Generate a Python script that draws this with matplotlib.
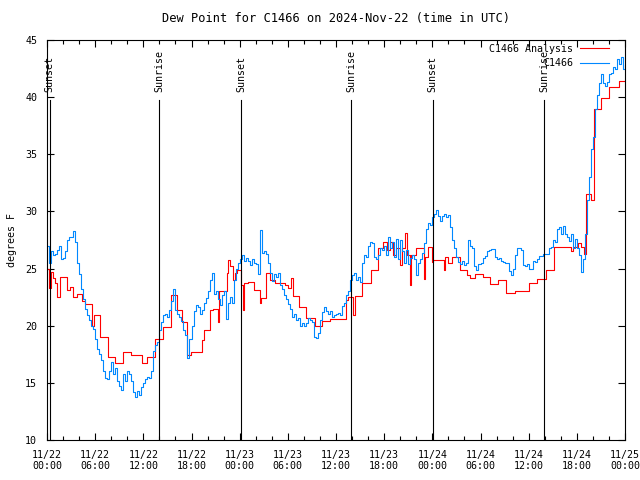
import numpy as np
import pandas as pd
import matplotlib
matplotlib.use('Agg')
import matplotlib.pyplot as plt
import matplotlib.dates as mdates

plt.rcParams['font.family'] = ['DejaVu Sans Mono']
plt.rcParams['font.size'] = 7.2

start = pd.Timestamp('2024-11-22 00:00')
end = pd.Timestamp('2024-11-25 00:00')

# station obs, every 15 min (deg F)
obs_vals = [
    27.0, 25.5, 26.5, 26.2, 26.3, 26.6, 27.0, 25.8, 25.9, 26.5, 27.5, 27.8,
    27.8, 28.3, 27.3, 25.5, 24.5, 23.2, 22.3, 21.5, 20.9, 20.5, 20.0, 19.7,
    18.8, 18.0, 17.5, 17.0, 16.0, 15.4, 15.3, 16.0, 16.8, 15.8, 16.3, 15.2,
    14.7, 14.4, 15.8, 15.2, 16.0, 15.8, 15.2, 14.2, 13.8, 14.3, 13.9, 14.6,
    15.0, 15.3, 15.5, 15.4, 16.0, 17.8, 18.3, 18.6, 19.6, 20.3, 20.9, 21.0,
    20.8, 21.4, 22.2, 23.2, 21.4, 21.0, 20.8, 20.4, 19.6, 19.2, 17.2, 18.8,
    20.0, 21.3, 21.8, 21.6, 21.0, 21.4, 22.0, 22.4, 23.0, 24.0, 24.6, 22.8,
    23.0, 22.3, 21.8, 22.7, 23.0, 20.6, 22.0, 22.5, 22.0, 24.0, 25.0, 25.5,
    25.8, 26.2, 25.7, 25.9, 25.7, 25.3, 25.8, 25.5, 25.4, 24.5, 28.4, 26.4,
    26.5, 26.3, 25.5, 24.6, 23.9, 24.5, 24.3, 24.6, 23.6, 23.2, 22.7, 22.3,
    21.9, 21.5, 20.8, 21.0, 20.5, 20.7, 20.0, 20.2, 20.0, 20.2, 20.7, 20.5,
    20.3, 19.0, 18.9, 19.4, 20.5, 21.2, 21.6, 21.3, 21.0, 21.3, 20.8, 20.9,
    21.0, 21.1, 20.9, 21.7, 22.0, 22.7, 23.0, 24.0, 24.4, 24.6, 24.0, 24.3,
    23.8, 25.5, 26.2, 26.0, 27.0, 27.3, 27.2, 26.0, 25.8, 26.2, 26.8, 26.6,
    27.0, 26.2, 27.8, 26.8, 27.3, 26.0, 27.6, 25.8, 27.5, 26.5, 25.5, 26.6,
    25.4, 25.9, 26.2, 25.8, 24.4, 25.5, 25.8, 26.4, 27.2, 28.5, 29.0, 28.8,
    29.5, 29.8, 30.1, 29.6, 29.2, 29.6, 29.8, 29.5, 29.7, 28.6, 27.5, 26.8,
    26.0, 25.6, 25.4, 25.7, 25.3, 25.5, 27.5, 27.0, 26.8, 25.2, 24.9, 25.4,
    25.5, 25.9, 26.1, 26.5, 26.6, 26.7, 26.7, 26.0, 25.8, 25.9, 25.7, 25.6,
    25.5, 25.5, 24.8, 24.4, 25.0, 26.2, 26.8, 26.8, 26.6, 25.3, 25.2, 25.4,
    25.0, 25.0, 25.7, 25.6, 25.8, 26.1, 26.1, 26.3, 26.3, 26.3, 26.8, 26.9,
    27.5, 27.3, 28.5, 28.6, 28.0, 28.7, 28.0, 27.8, 27.4, 28.0, 26.8, 27.6,
    26.8, 26.2, 24.7, 25.8, 28.0, 31.0, 33.0, 35.5, 36.5, 39.0, 40.2, 41.2,
    42.0, 41.2, 41.0, 41.3, 42.0, 42.1, 42.6, 42.5, 43.3, 42.9, 43.5, 42.5,
    42.8,
]
obs_times = pd.date_range(start, periods=len(obs_vals), freq='15min')

# analysis: hours after start where the value changes, and the value
ana_hours = [
    0, 0.25, 0.5, 0.8, 1.0, 1.3, 1.6, 2.45, 2.85, 3.3, 3.7, 4.3, 4.75, 5.55,
    5.9, 6.6, 7.55, 8.45, 9.5, 10.5, 11.8, 12.4, 13.4, 14.4, 15.5, 16.2,
    16.8, 17.4, 17.9, 19.3, 19.5, 20.3, 20.7, 21.3, 21.4, 22.4, 22.6, 22.8,
    23.2, 23.4, 23.7, 24.2, 24.4, 24.5, 25.0, 25.8, 26.5, 26.6, 27.3, 27.8,
    28.4, 29.6, 30.0, 30.4, 30.6, 31.4, 32.3, 33.4, 34.2, 35.2, 37.3, 37.5,
    38.1, 38.4, 39.2, 40.4, 41.2, 41.8, 42.4, 42.7, 43.1, 43.5, 44.0, 44.2,
    44.6, 44.8, 45.2, 45.4, 46.0, 46.9, 47.1, 47.5, 47.9, 48.1, 49.4, 49.6,
    49.9, 50.4, 51.4, 52.3, 52.7, 53.3, 54.3, 55.2, 56.2, 57.2, 58.3, 60.1,
    61.1, 62.1, 63.2, 65.3, 65.5, 66.2, 66.5, 66.9, 67.2, 67.8, 68.1, 69.0,
    70.0, 71.3, 72.0,
]
ana_vals = [
    25.0, 23.3, 24.7, 24.2, 23.7, 22.5, 24.3, 23.1, 23.4, 22.5, 22.8, 22.2,
    21.9, 20.0, 20.9, 19.0, 17.3, 16.7, 17.7, 17.4, 16.7, 17.3, 18.8, 19.9,
    22.7, 21.4, 20.3, 17.4, 17.7, 18.75, 19.6, 21.4, 21.5, 20.3, 23.0, 24.6,
    25.75, 25.2, 24.0, 24.6, 24.9, 23.6, 21.4, 23.7, 23.85, 23.1, 22.0, 22.4,
    24.6, 24.0, 23.7, 23.6, 23.3, 24.2, 22.6, 21.6, 20.65, 20.0, 20.4, 20.6,
    22.25, 22.5, 20.9, 22.6, 23.7, 24.9, 26.8, 27.35, 26.6, 27.3, 26.2, 26.8,
    25.3, 26.8, 28.1, 26.2, 23.6, 26.2, 26.8, 24.1, 26.0, 26.9, 25.6, 25.75,
    24.9, 26.0, 25.5, 26.0, 24.9, 24.4, 24.2, 24.5, 24.3, 23.65, 24.0, 22.9,
    23.0, 23.7, 24.1, 24.9, 26.9, 26.5, 26.9, 27.2, 26.9, 26.3, 31.5, 31.0,
    39.0, 39.9, 40.9, 41.4, 41.4,
]
ana_times = start + pd.to_timedelta(ana_hours, unit='h')

sun_hours = [0.35, 14.0, 24.2, 37.9, 48.05, 61.9]
sun_labels = ['Sunset', 'Sunrise', 'Sunset', 'Sunrise', 'Sunset', 'Sunrise']
sun_times = start + pd.to_timedelta(sun_hours, unit='h')

fig = plt.figure(figsize=(6.4, 4.8), dpi=100)
ax = fig.add_axes([47 / 640, 40 / 480, 578 / 640, 400 / 480])

ax.step(ana_times, ana_vals, where='post', color='#ff0000', lw=0.8,
        label='C1466 Analysis')
ax.step(obs_times, obs_vals, where='post', color='#0088ff', lw=0.8,
        label='C1466')

for t, lab in zip(sun_times, sun_labels):
    ax.plot([t, t], [10, 39.75], color='black', lw=0.8)
    ax.text(t, 40.45, lab, rotation=90, ha='center', va='bottom')

ax.set_xlim(start, end)
ax.set_ylim(10, 45)
ax.set_yticks(np.arange(10, 46, 5))
ax.xaxis.set_major_locator(mdates.HourLocator(byhour=[0, 6, 12, 18]))
ax.xaxis.set_minor_locator(mdates.HourLocator(byhour=range(0, 24, 2)))
ax.xaxis.set_major_formatter(mdates.DateFormatter('%m/%d\n%H:%M'))
ax.tick_params(which='both', direction='in', top=True, right=True, width=0.8)
ax.tick_params(which='major', length=5, pad=7)
ax.tick_params(which='minor', length=3)
for s in ax.spines.values():
    s.set_linewidth(0.8)

ax.set_ylabel('degrees F', labelpad=6)
ax.set_title('Dew Point for C1466 on 2024-Nov-22 (time in UTC)', pad=13)

ax.legend(loc='upper right', bbox_to_anchor=(1 - 12 / 578, 1.0),
          frameon=False, markerfirst=False,
          handlelength=2.9, handletextpad=0.7, labelspacing=0.45,
          borderaxespad=0.2, borderpad=0.2)

fig.savefig('out.png', dpi=100)
